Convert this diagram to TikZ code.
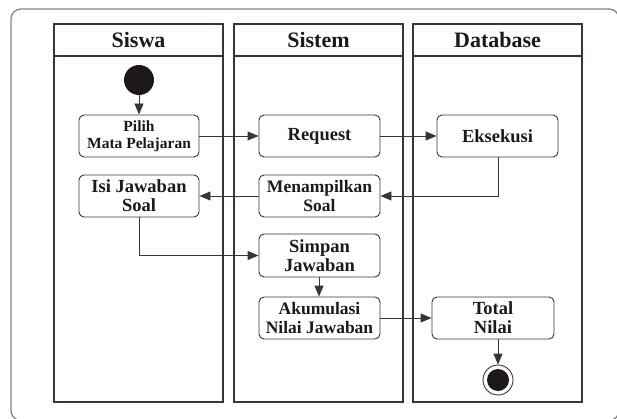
\documentclass[tikz,border=0pt]{standalone}
\usepackage{fontspec}
\setmainfont{Liberation Serif}
\usetikzlibrary{arrows.meta}
\definecolor{ln}{HTML}{3C3434}
\definecolor{fr}{HTML}{858585}
\definecolor{dk}{HTML}{1E1818}
\begin{document}
\begin{tikzpicture}[x=1pt,y=-1pt,
  act/.style={draw=ln, line width=0.9pt, rounded corners=5pt, minimum width=121pt,
    minimum height=42pt, inner sep=0pt, align=center, text=dk,
    font=\bfseries\fontsize{18.5}{19}\selectfont},
  small/.style={font=\bfseries\fontsize{15.5}{17}\selectfont},
  narrow/.style={font=\bfseries\fontsize{17.5}{19}\selectfont},
  lane/.style={draw=ln, line width=1.1pt},
  hdr/.style={font=\bfseries\fontsize{22}{24}\selectfont, text=dk, inner sep=0pt},
  flow/.style={draw=ln, line width=0.9pt, -{Triangle[length=11pt,width=9pt]}},
  frame/.style={draw=fr, line width=1.3pt, rounded corners=10pt}]
\useasboundingbox (0,0) rectangle (617,419);
\fill[white] (0,0) rectangle (617,419);
% outer frame
\draw[frame] (11,9) rectangle (619,420.5);
% lanes
\draw[lane] (54,24) rectangle (223,402) (54,56) -- (223,56);
\draw[lane] (234,24) rectangle (403,402) (234,56) -- (403,56);
\draw[lane] (413,24) rectangle (582,402) (413,56) -- (582,56);
\node[hdr] (h1) at (138.5,40) {Siswa};
\node[hdr] (h2) at (318.5,40) {Sistem};
\node[hdr] (h3) at (497.5,40) {Database};
% nodes
\node[circle, fill=dk, minimum size=30pt, inner sep=0pt] (start) at (139,80) {};
\node[act, small, minimum width=120pt] (pilih) at (139,136) {Pilih\\Mata Pelajaran};
\node[act] (request) at (319.5,136) {Request};
\node[act] (eksekusi) at (497.5,136) {Eksekusi};
\node[act, minimum width=120pt] (isi) at (139,196) {Isi Jawaban\\Soal};
\node[act, narrow] (tampil) at (319.5,196) {Menampilkan\\Soal};
\node[act, minimum height=43pt] (simpan) at (319.5,255.5) {Simpan\\Jawaban};
\node[act, narrow] (akum) at (319.5,318) {Akumulasi\\Nilai Jawaban};
\node[act, minimum width=122pt] (total) at (493,318) {Total\\Nilai};
\node[circle, draw=ln, line width=0.9pt, minimum size=30pt, inner sep=0pt] (end) at (498,380) {};
\node[circle, fill=dk, minimum size=22pt, inner sep=0pt] (endin) at (end) {};
% connectors
\draw[flow] (start) -- (pilih);
\draw[flow] (pilih) -- (request);
\draw[flow] (request) -- (eksekusi);
\draw[flow] ([xshift=0.5pt]eksekusi.south) |- (tampil.east);
\draw[flow] (tampil) -- (isi);
\draw[flow] (isi.south) |- (simpan.west);
\draw[flow] ([xshift=-0.5pt]simpan.south) -- ([xshift=-0.5pt]akum.north);
\draw[flow] (akum) -- (total);
\draw[flow] (total.south -| end.north) -- (end.north);
\end{tikzpicture}
\end{document}
